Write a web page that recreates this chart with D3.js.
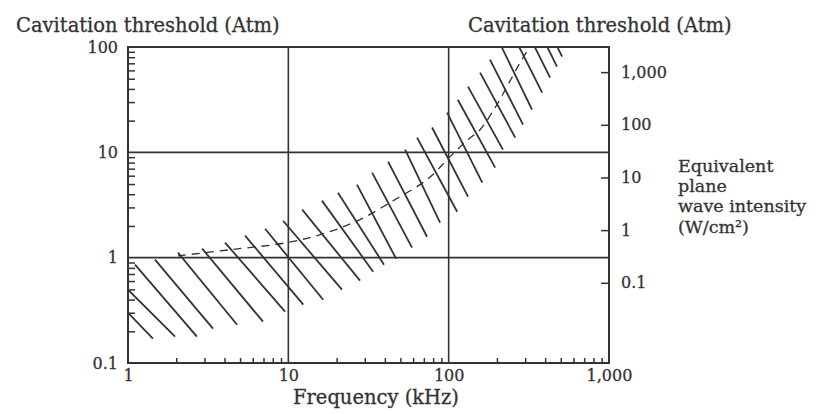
<!DOCTYPE html>
<html>
<head>
<meta charset="utf-8">
<script src="https://cdnjs.cloudflare.com/ajax/libs/d3/7.8.5/d3.min.js"></script>
<style>
	body { margin: 0; background: #fff; }
	text { font-family: "DejaVu Serif", serif; fill: #333; stroke: #333; stroke-width: 0.3px; }
</style>
</head>
<body>
<svg id="chart" width="822" height="414"></svg>
<script>
	var freqTicks = [1, 10, 100, 1000];
	var freqLabels = ["1", "10", "100", "1,000"];
	var pressTicks = [0.1, 1, 10, 100];
	var pressLabels = ["0.1", "1", "10", "100"];
	var intensTicks = [0.1, 1, 10, 100, 1000];
	var intensLabels = ["0.1", "1", "10", "100", "1,000"];
	var wattsPerAtm2 = 0.3; // W/cm2 for 1 atm amplitude

	// dashed middle of the threshold band [kHz, atm]
	var centreLine = [[2.05,1.04],[4.33,1.19],[9.82,1.39],[17.4,1.73],[28,2.3],[46.3,3.56],[73.3,5.51],
		[105,9.51],[132,13.2],[157,16.4],[195,26.6],[235,44],[279,71.1],[322,101]];

	// hatch strokes: upper end and lower end [kHz, atm]
	var hatchTop = [[0.958,0.321],[1,0.497],[1.106,0.858],[1.473,0.957],[2.05,1.116],[2.9,1.22],[4.03,1.39],
		[5.37,1.62],[7.16,1.88],[9.27,2.24],[12.2,2.86],[16.2,3.48],[20.4,4.14],[26.8,4.93],[33.3,6.41],
		[41.9,8.16],[53.5,10.6],[63.5,13.8],[78.8,17.2],[97.8,23.8],[114,31.6],[132,42.1],[157,57.1],
		[181,75.9],[215,98.7],[243,146],[304,146],[364,146],[420,146]];
	var hatchBottom = [[1.43,0.17],[1.965,0.178],[2.69,0.178],[3.39,0.212],[4.79,0.231],[6.95,0.247],[9.54,0.307],
		[12.4,0.358],[16.5,0.399],[21.6,0.497],[28,0.605],[33.8,0.736],[39.5,0.858],[47,0.978],[59.1,1.245],
		[73.3,1.58],[88.4,2.15],[113,2.73],[132,3.8],[162,5.15],[195,7.16],[218,10.6],[260,13.8],[291,18.3],
		[331,25.4],[383,36.9],[429,51.2],[474,65.1],[510,81.1]];

	var margin = {top: 47, right: 213, bottom: 51, left: 128};
	var w = 822 - margin.left - margin.right, h = 414 - margin.top - margin.bottom;
	var ink = "#333";

	var svg = d3.select("#chart");
	svg.append("rect").attr("width", 822).attr("height", 414).attr("fill", "#fff");

	var x = d3.scaleLog().domain([1, 1000]).range([0, w]);
	var y = d3.scaleLog().domain([0.1, 100]).range([h, 0]);
	var yI = d3.scaleLog().domain([wattsPerAtm2 * 0.01, wattsPerAtm2 * 10000]).range([h, 0]);

	var g = svg.append("g").attr("transform", "translate(" + margin.left + "," + margin.top + ")");

	g.append("clipPath").attr("id", "plot").append("rect").attr("width", w).attr("height", h);

	function minors(lo, hi){
		var out = [];
		for(var d = lo; d < hi; d *= 10)
			for(var k = 2; k <= 9; ++ k) out.push(d * k);
		return out;
	}

	// grid
	g.selectAll(".vgrid").data([10, 100]).enter().append("line")
		.attr("x1", d => x(d)).attr("x2", d => x(d)).attr("y1", 0).attr("y2", h)
		.attr("stroke", ink).attr("stroke-width", 1.6);
	g.selectAll(".hgrid").data([1, 10]).enter().append("line")
		.attr("x1", 0).attr("x2", w).attr("y1", d => y(d)).attr("y2", d => y(d))
		.attr("stroke", ink).attr("stroke-width", 1.6);

	// hatching
	var hatch = g.append("g").attr("clip-path", "url(#plot)");
	hatch.selectAll("line").data(hatchTop).enter().append("line")
		.attr("x1", d => x(d[0])).attr("y1", d => y(d[1]))
		.attr("x2", (d, i) => x(hatchBottom[i][0])).attr("y2", (d, i) => y(hatchBottom[i][1]))
		.attr("stroke", ink).attr("stroke-width", 1.8);

	hatch.append("path").datum(centreLine)
		.attr("d", d3.line().x(d => x(d[0])).y(d => y(d[1])).curve(d3.curveCatmullRom))
		.attr("fill", "none").attr("stroke", ink).attr("stroke-width", 1.3)
		.attr("stroke-dasharray", "8,6");

	// axes
	function styleAxis(sel, size){
		sel.select(".domain").remove();
		sel.selectAll("line").attr("stroke", ink).attr("stroke-width", 1.5);
		sel.selectAll("text").style("font-family", "'DejaVu Serif', serif").style("font-size", size).attr("fill", ink);
	}

	g.append("g").call(d3.axisLeft(y).tickValues(minors(0.1, 100)).tickSize(-7).tickFormat(""))
		.call(styleAxis, "16px");
	g.append("g").call(d3.axisLeft(y).tickValues(pressTicks).tickSize(0).tickPadding(10)
		.tickFormat((d, i) => pressLabels[i])).call(styleAxis, "16px");

	g.append("g").attr("transform", "translate(0," + h + ")")
		.call(d3.axisBottom(x).tickValues(minors(1, 1000)).tickSize(-5).tickFormat(""))
		.call(styleAxis, "16px");
	g.append("g").attr("transform", "translate(0," + h + ")")
		.call(d3.axisBottom(x).tickValues(freqTicks).tickSize(0).tickPadding(7)
		.tickFormat((d, i) => freqLabels[i])).call(styleAxis, "16px");

	g.append("g").attr("transform", "translate(" + w + ",0)")
		.call(d3.axisRight(yI).tickValues(intensTicks).tickSize(-8).tickPadding(12)
		.tickFormat((d, i) => intensLabels[i])).call(styleAxis, "16px");

	// frame
	g.append("rect").attr("width", w).attr("height", h)
		.attr("fill", "none").attr("stroke", ink).attr("stroke-width", 2);

	// titles
	svg.append("text").attr("x", 16).attr("y", 32).style("font-size", "19.5px")
		.text("Cavitation threshold (Atm)");
	svg.append("text").attr("x", 468).attr("y", 32).style("font-size", "19.5px")
		.text("Cavitation threshold (Atm)");
	svg.append("text").attr("x", 376).attr("y", 404).attr("text-anchor", "middle").style("font-size", "19.5px")
		.text("Frequency (kHz)");

	var side = svg.append("text").attr("x", 678).attr("y", 172).style("font-size", "17.5px");
	side.append("tspan").attr("x", 678).attr("y", 172).text("Equivalent");
	side.append("tspan").attr("x", 678).attr("y", 192).text("plane");
	side.append("tspan").attr("x", 678).attr("y", 212).text("wave intensity");
	svg.append("text").attr("x", 678).attr("y", 233).style("font-size", "17.5px")
		.text("(W/cm²)");
</script>
</body>
</html>
